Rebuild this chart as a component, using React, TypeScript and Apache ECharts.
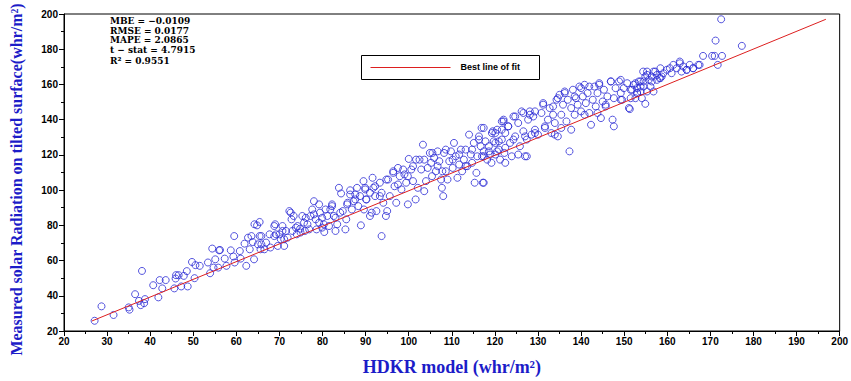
import React, { useEffect, useRef } from "react";
import * as echarts from "echarts";

// HDKR model values (x) and measured radiation (y)
const hdkrModel: number[] = [
  27.1, 28.7, 31.5, 35.0, 35.2, 36.5, 38.1, 37.4, 37.8, 38.6, 38.8, 40.7, 41.9, 42.2, 43.6, 42.8,
  45.6, 45.9, 46.0, 46.6, 47.2, 47.8, 48.5, 48.7, 49.7, 50.5, 51.5, 50.3, 53.4, 53.9, 54.4, 55.1,
  54.7, 56.0, 55.8,
  56.2, 57.3, 57.7, 58.7, 59.3, 59.5, 59.6, 60.8, 61.0, 62.3, 61.9, 62.7, 63.1, 63.8, 64.1, 64.8,
  65.4, 65.4, 65.8, 65.6, 66.5, 67.7, 67.9, 68.8, 69.0, 69.6, 70.0, 70.3, 70.7, 71.1, 71.5, 71.9,
  72.3, 72.8, 73.0, 73.3, 74.0, 74.2, 74.8, 75.3, 75.7, 75.9, 76.5, 76.9, 77.2, 77.6, 78.0, 78.4,
  78.6, 79.2, 79.4, 79.9, 80.3, 80.4, 81.1, 81.5, 81.8, 82.2, 82.6, 83.0, 83.4, 83.8, 84.3, 84.7,
  85.3, 85.5, 85.8, 86.4, 86.8, 87.2, 87.6, 88.0, 88.3, 88.7, 88.9, 89.5, 89.6, 89.9, 90.1,
  91.0, 91.4, 92.5, 94.7, 95.0, 89.9, 90.2, 91.6, 91.8, 92.2, 93.3, 93.7, 94.1, 95.2, 95.6, 96.4,
  96.7, 97.1, 97.5, 97.9, 98.3, 99.0, 99.4, 99.8, 100.0, 100.6, 101.0, 101.6, 101.7, 102.1, 102.9,
  103.3, 103.6, 103.6, 104.0, 104.4, 104.9, 105.2, 105.4, 105.9, 106.3, 106.7, 107.1, 107.5, 107.7,
  108.0, 108.2, 108.6, 109.0, 109.4, 109.8, 110.2, 110.5, 110.9, 111.3, 111.7, 112.1, 112.4, 112.8,
  113.2, 113.6, 114.0, 114.4, 114.7, 115.1, 115.3, 115.7, 115.9, 116.3, 116.7, 116.9, 117.2, 117.4,
  117.8, 118.2, 118.9, 119.2, 119.5, 119.7, 120.1, 120.5, 120.9, 121.2, 121.6, 122.0, 122.2, 122.4,
  93.7,
  120.1, 120.9, 121.6, 120.5, 122.0, 122.4, 123.1, 123.5, 123.9, 124.3, 124.7, 125.4, 125.8, 126.2,
  126.6, 127.0, 127.4, 127.7, 128.1, 128.5, 128.9, 129.3, 130.0, 130.8, 131.2, 131.6, 132.3, 132.7,
  133.1, 133.5, 133.9, 134.3, 134.6, 135.0, 135.4, 135.8, 136.2, 136.6, 136.9, 137.3, 137.7, 138.1,
  138.5, 138.8, 139.2, 139.6, 140.0, 140.4, 140.8, 141.1, 141.5, 141.9, 142.3, 142.7, 143.1, 143.4,
  143.8, 144.2, 144.6, 145.0, 145.3, 145.7, 146.1, 146.9, 147.3, 147.6, 147.6, 148.0, 148.8, 149.2,
  149.5, 149.9, 150.7, 151.1, 151.5, 151.8, 152.6, 153.0, 153.8, 154.1, 154.4, 151.3,
  172.5, 171.2, 177.3, 168.3, 170.4, 171.0, 172.7, 171.7, 167.2, 166.0, 165.2, 164.5, 163.7, 162.9,
  163.3, 162.2, 161.4, 161.0, 159.9, 159.1, 158.4, 157.6, 156.8, 156.4, 155.3, 154.9, 155.7, 154.5,
  153.4, 153.0, 152.2, 153.8, 154.5, 155.3, 156.1, 156.8, 156.4, 157.6, 158.2, 158.7, 154.9, 152.6,
  // extra points from the dense bands
  117.4, 119.3, 121.6, 123.1, 124.7, 126.6, 128.1, 129.3, 131.2, 133.5, 134.6, 136.2, 138.5, 140.0,
  141.9, 144.2, 146.9, 149.2, 151.5, 153.8, 155.3, 157.2, 158.4, 160.6, 162.9, 164.5, 166.0, 167.5,
  127.0, 129.3, 131.6, 133.9, 135.4, 137.7, 140.8, 143.8, 145.7, 149.2, 153.0,
  120.1, 122.4, 124.3, 125.4, 127.4, 117.0, 118.6,
  64.2, 63.5, 65.8, 65.0, 66.9, 68.8, 69.2, 70.7, 71.1, 72.6, 73.8, 74.9, 76.1, 78.0, 79.2, 79.9,
  80.7, 82.2, 83.0, 84.1, 85.7, 86.4, 87.6, 91.0, 92.2, 93.3, 94.8, 96.4, 97.5, 98.7, 99.8, 101.0,
  102.5, 105.5, 106.7, 107.8, 108.6, 110.2, 111.7, 113.2, 114.7, 116.3, 117.4, 118.6, 117.4,
];

const measuredRadiation: number[] = [
  25.8, 34.0, 29.1, 33.4, 32.1, 40.9, 54.1, 37.1, 34.7, 35.8, 38.1, 46.0, 39.1, 48.9, 48.9, 44.2,
  44.2, 49.8, 51.7, 51.7, 45.3, 51.3, 54.0, 45.3, 59.2, 57.4, 57.0, 50.0, 58.9, 52.8, 66.8, 60.7,
  56.0, 65.8, 56.0,
  66.0, 61.1, 57.0, 65.8, 62.3, 73.9, 58.9, 65.4, 61.1, 57.0, 69.6, 73.0, 66.4, 70.5, 60.7, 80.0,
  81.9, 73.9, 69.2, 66.4, 66.4, 74.9, 67.4, 73.9, 80.6, 68.3, 74.9, 72.1, 79.6, 68.3, 76.8, 73.0,
  88.1, 83.4, 76.8, 85.3, 74.9, 79.6, 78.1, 85.3, 81.5, 76.8, 80.6, 77.7, 85.3, 89.0, 93.7, 83.4,
  77.7, 91.9, 87.2, 84.3, 80.6, 76.2, 85.3, 79.6, 89.0, 91.9, 85.3, 76.8, 80.6, 101.3, 98.1, 88.1,
  77.7, 83.4, 92.8, 99.9, 89.0, 93.7, 97.5, 101.3, 90.9, 96.6, 80.0, 105.1, 89.0, 101.3, 94.7,
  85.3, 87.2, 88.1, 85.3, 88.1, 100.4, 94.7, 107.0, 101.3, 96.6, 104.2, 98.5, 92.8, 106.0, 96.6, 110.7,
  102.2, 92.8, 112.6, 107.9, 100.4, 108.9, 104.2, 91.9, 117.7, 111.7, 105.1, 94.7, 117.3, 101.3, 111.7,
  125.8, 117.3, 99.4, 105.1, 112.6, 121.1, 115.5, 107.9, 118.3, 110.7, 122.0, 116.4, 106.0, 101.3,
  96.6, 121.1, 110.7, 106.0, 116.4, 122.0, 112.6, 126.8, 119.2, 107.0, 114.5, 123.0, 110.7, 117.3,
  123.0, 113.6, 131.5, 120.2, 115.5, 126.8, 104.2, 109.8, 119.2, 130.5, 124.9, 135.3, 104.2, 122.0,
  127.7, 117.3, 120.2, 115.5, 133.4, 127.7, 132.4, 122.0, 127.7, 117.3, 134.3, 139.0, 121.1, 115.5,
  73.9,
  120.2, 123.0, 128.7, 134.3, 140.0, 132.4, 136.2, 126.8, 119.2, 141.8, 130.5, 138.1, 124.9, 144.7,
  133.4, 119.2, 128.7, 140.0, 144.7, 131.5, 141.8, 134.3, 131.5, 143.8, 149.4, 135.3, 140.0, 146.6,
  132.4, 142.8, 138.1, 151.3, 130.5, 154.1, 142.8, 148.5, 155.1, 139.0, 151.3, 122.0, 146.6, 157.0,
  142.8, 152.2, 148.5, 158.8, 144.7, 153.2, 159.8, 149.4, 155.1, 143.8, 137.1, 151.3, 158.8, 147.5,
  155.1, 160.7, 140.9, 150.3, 157.0, 147.5, 153.2, 161.7, 140.0, 136.2, 152.2, 157.9, 161.7, 155.1,
  151.3, 157.9, 160.7, 146.6, 152.2, 157.0, 160.7, 155.1, 158.8, 152.2, 167.3, 146.0,
  197.0, 184.9, 181.9, 176.2, 176.2, 176.2, 176.2, 171.1, 171.1, 169.2, 171.1, 168.3, 170.2, 173.0,
  167.3, 169.2, 171.1, 166.4, 168.3, 166.4, 169.2, 165.4, 167.3, 164.5, 167.3, 164.5, 162.6, 161.7,
  161.7, 157.9, 159.8, 156.0, 158.8, 156.0, 158.8, 156.0, 161.7, 162.6, 163.6, 164.5, 149.0, 152.2,
  // extra points from the dense bands
  135.3, 132.4, 139.0, 136.2, 141.8, 143.8, 142.8, 144.7, 148.5, 147.5, 152.2, 156.0, 153.2, 157.9,
  158.8, 159.8, 161.7, 162.6, 157.0, 161.7, 165.4, 167.3, 163.6, 169.2, 172.0, 168.3, 169.2, 171.1,
  130.5, 132.4, 136.2, 131.5, 135.3, 134.3, 142.8, 143.8, 148.5, 151.3, 155.1,
  126.8, 124.0, 128.7, 120.2, 119.2, 119.2, 122.0,
  80.6, 73.9, 73.9, 69.2, 70.2, 79.6, 74.9, 76.8, 72.1, 87.2, 78.7, 75.9, 84.3, 86.2, 81.5, 78.7,
  89.0, 90.9, 84.3, 87.2, 91.9, 97.5, 94.7, 98.5, 102.2, 96.6, 106.0, 109.8, 103.2, 111.7, 107.9, 113.6,
  117.3, 121.1, 113.6, 110.7, 123.0, 117.3, 120.2, 113.6, 123.0, 128.7, 119.2, 124.9, 104.2,
];

const fitLineX: number[] = [26.5, 196.8];
const fitLineY: number[] = [25.7, 197.0];

const statsLines: string[] = [
  "MBE = −0.0109",
  "RMSE = 0.0177",
  "MAPE = 2.0865",
  "t − stat = 4.7915",
  "R² = 0.9551",
];
const statsY: number[] = [21, 30.5, 40, 49.5, 61];

const legendLabel = "Best line of fit";
const xAxisTitle = "HDKR model (whr/m²)";
const yAxisTitle = "Measured solar Radiation on tilted surface(whr/m²)";

const BLUE_TITLE = "#1c1cc8";
const POINT_BLUE = "#2a2ad4";
const FIT_RED = "#dd1f1f";

export default function App() {
  const ref = useRef<HTMLDivElement>(null);

  useEffect(() => {
    if (!ref.current) return;
    const chart = echarts.init(ref.current, undefined, { renderer: "svg" });

    const scatterData = hdkrModel.map((x, i) => [x, measuredRadiation[i]]);
    const fitData = fitLineX.map((x, i) => [x, fitLineY[i]]);

    const axisLabelStyle = {
      color: "#000",
      fontWeight: "bold" as const,
      fontSize: 10,
      fontFamily: "Liberation Sans, Arial, sans-serif",
    };

    const statGraphics = statsLines.map((t, i) => ({
      type: "text",
      x: 110,
      y: statsY[i],
      style: {
        text: t,
        fill: "#000",
        font: "bold 9px 'DejaVu Serif', serif",
        verticalAlign: "middle",
        textBaseline: "middle",
      },
    }));

    chart.setOption({
      animation: false,
      backgroundColor: "#fff",
      grid: {
        left: 64,
        right: 3,
        top: 14,
        bottom: 49,
        show: true,
        borderColor: "#000",
        borderWidth: 1,
        backgroundColor: "transparent",
      },
      xAxis: {
        type: "value",
        min: 20,
        max: 200,
        interval: 10,
        name: xAxisTitle,
        nameLocation: "middle",
        nameGap: 27,
        nameTextStyle: {
          color: BLUE_TITLE,
          fontFamily: "Liberation Serif, serif",
          fontWeight: "bold",
          fontSize: 18,
        },
        axisLine: { show: true, lineStyle: { color: "#000", width: 1 } },
        axisTick: { show: true, length: 5, lineStyle: { color: "#000" } },
        minorTick: { show: true, splitNumber: 2, length: 3, lineStyle: { color: "#000" } },
        splitLine: { show: false },
        axisLabel: { ...axisLabelStyle, margin: 5 },
      },
      yAxis: {
        type: "value",
        min: 20,
        max: 200,
        interval: 20,
        name: yAxisTitle,
        nameLocation: "middle",
        nameGap: 40,
        nameTextStyle: {
          color: BLUE_TITLE,
          fontFamily: "Liberation Serif, serif",
          fontWeight: "bold",
          fontSize: 16,
          padding: [0, 14, 0, 0],
        },
        axisLine: { show: true, lineStyle: { color: "#000", width: 1 } },
        axisTick: { show: true, length: 5, lineStyle: { color: "#000" } },
        minorTick: { show: true, splitNumber: 2, length: 3, lineStyle: { color: "#000" } },
        splitLine: { show: false },
        axisLabel: { ...axisLabelStyle, margin: 6 },
      },
      series: [
        {
          type: "scatter",
          name: "Measured",
          data: scatterData,
          symbol: "circle",
          symbolSize: 7,
          itemStyle: {
            color: "rgba(255,255,255,0)",
            borderColor: POINT_BLUE,
            borderWidth: 1,
          },
          z: 2,
        },
        {
          type: "line",
          name: legendLabel,
          data: fitData,
          symbol: "none",
          lineStyle: { color: FIT_RED, width: 1 },
          z: 3,
        },
      ],
      graphic: [
        ...statGraphics,
        {
          type: "group",
          left: 361,
          top: 55,
          children: [
            {
              type: "rect",
              shape: { x: 0, y: 0, width: 178, height: 24 },
              style: { fill: "#fff", stroke: "#000", lineWidth: 1 },
            },
            {
              type: "line",
              shape: { x1: 9, y1: 12, x2: 89, y2: 12 },
              style: { stroke: FIT_RED, lineWidth: 1 },
            },
            {
              type: "text",
              x: 99,
              y: 7,
              style: {
                text: legendLabel,
                fill: "#000",
                font: "bold 9px 'Liberation Sans', Arial, sans-serif",
              },
            },
          ],
        },
      ],
    });

    return () => chart.dispose();
  }, []);

  return (
    <div
      ref={ref}
      style={{ position: "fixed", left: 0, top: 0, width: 851, height: 381, background: "#fff" }}
    />
  );
}
